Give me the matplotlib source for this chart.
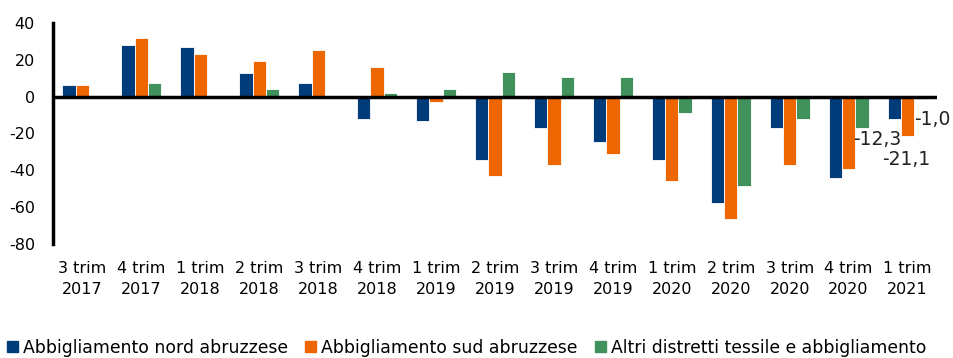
import matplotlib.pyplot as plt
import numpy as np
from matplotlib.patches import Patch

plt.rcParams['font.family'] = 'DejaVu Sans'
plt.rcParams['axes.unicode_minus'] = False

periodi = ['3 trim\n2017', '4 trim\n2017', '1 trim\n2018', '2 trim\n2018', '3 trim\n2018',
           '4 trim\n2018', '1 trim\n2019', '2 trim\n2019', '3 trim\n2019', '4 trim\n2019',
           '1 trim\n2020', '2 trim\n2020', '3 trim\n2020', '4 trim\n2020', '1 trim\n2021']

nord = [6.1, 28.2, 26.8, 12.6, 7.4, -11.9, -13.3, -34.3, -16.9, -24.8,
        -34.3, -57.7, -16.9, -44.2, -12.3]
sud = [6.1, 31.8, 23.2, 19.6, 25.3, 16.0, -2.7, -43.3, -37.0, -31.3,
       -45.6, -66.4, -37.0, -39.1, -21.1]
altri = [0.0, 7.4, 0.0, 4.0, -0.3, 1.8, 4.0, 13.3, 10.9, 10.9,
         -8.9, -48.5, -11.9, -16.9, -1.0]

nomi = ['Abbigliamento nord abruzzese', 'Abbigliamento sud abruzzese',
        'Altri distretti tessile e abbigliamento']
colori = ['#003B7A', '#EE6600', '#41915C']

fig = plt.figure(figsize=(9.54, 3.58), dpi=100)
ax = fig.add_axes([53 / 954, 1 - 244 / 358, (937 - 53) / 954, (244 - 23) / 358])

x = np.arange(len(periodi))
w = 0.226
serie = [nord, sud, altri]
for i, (vals, col) in enumerate(zip(serie, colori)):
    ax.bar(x + (i - 1) * w, vals, w, color=col, edgecolor='white', linewidth=0.6, zorder=2)

# zero line
ax.axhline(0, color='black', linewidth=2.5, zorder=3)

ax.set_xlim(-0.5, len(periodi) - 0.5)
ax.set_ylim(-80, 40)
ax.set_yticks(np.arange(-80, 41, 20))
ax.set_xticks(x)
ax.set_xticklabels(periodi, fontsize=11.5, linespacing=1.5)
ax.tick_params(axis='x', length=0, pad=12)
ax.tick_params(axis='y', length=0, pad=13, labelsize=11.5)

for s in ['top', 'right', 'bottom']:
    ax.spines[s].set_visible(False)
ax.spines['left'].set_linewidth(2.5)

# labels on the last quarter
ultimo = len(periodi) - 1
offs = [(-41, -20), (-25, -24), (-7, -21)]
for i, vals in enumerate(serie):
    v = vals[ultimo]
    ax.annotate(f'{v:.1f}'.replace('.', ','), xy=(ultimo + (i - 1) * w, v),
                xytext=offs[i], textcoords='offset pixels',
                ha='left', va='center', fontsize=13.5, color='#222222')

handles = [Patch(color=c, label=n) for c, n in zip(colori, nomi)]
fig.legend(handles=handles, loc='lower left', bbox_to_anchor=(-0.004, -0.025), ncol=3,
           frameon=False, fontsize=12.4, handlelength=0.65, handleheight=0.65,
           handletextpad=0.3, columnspacing=1.0, borderaxespad=0.2)

fig.savefig('out.png', dpi=100)
